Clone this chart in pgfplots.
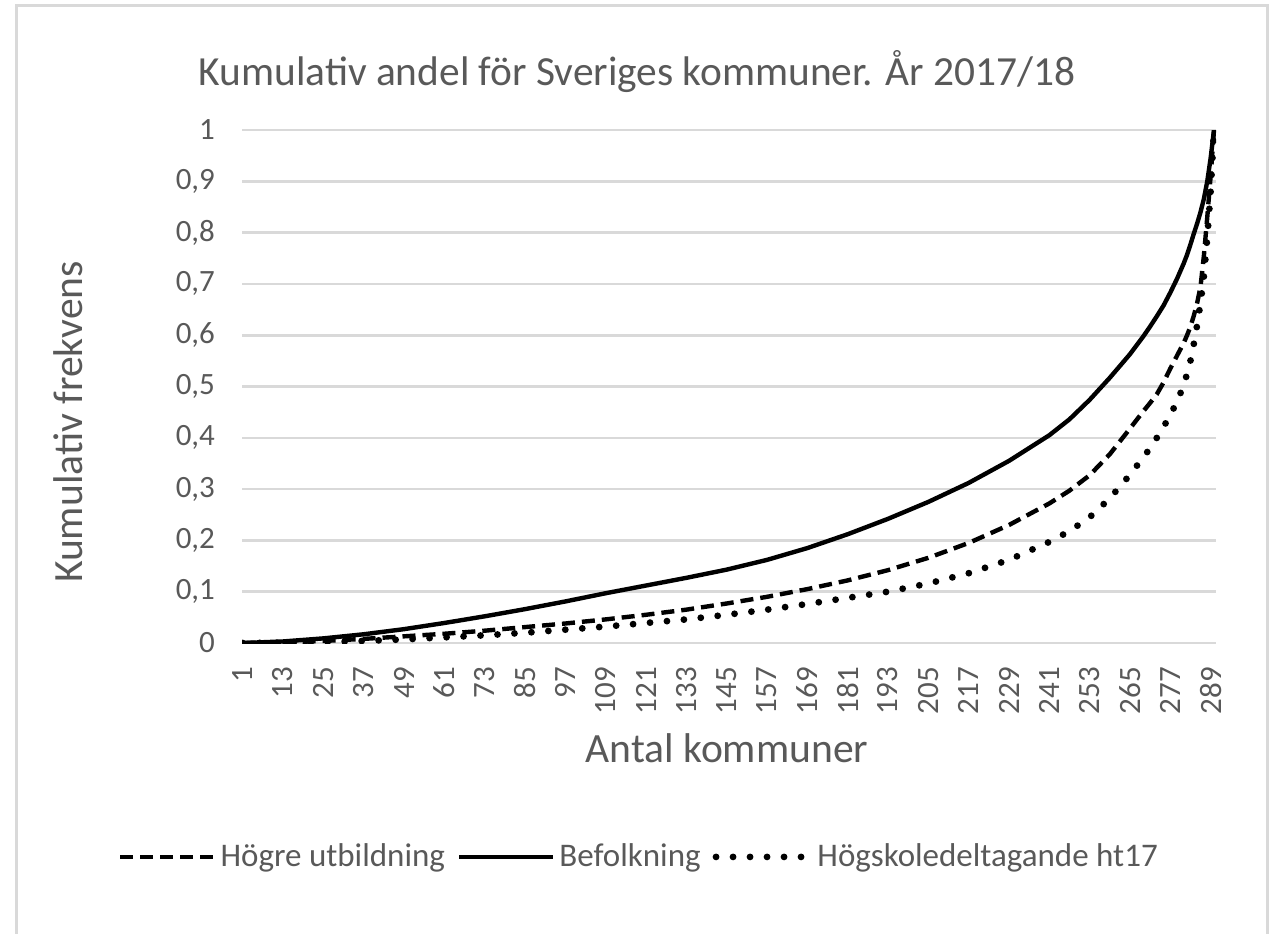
\documentclass[border=0pt]{standalone}
\usepackage{fontspec}
\setmainfont{Carlito}
\usepackage{pgfplots}
\pgfplotsset{compat=1.18}
\usepackage{pgfplotstable}
\definecolor{txt}{HTML}{595959}
\definecolor{gridc}{HTML}{D9D9D9}

\pgfplotstableread{
x hu bef hsk
1 0 0 0
13 0.001 0.003 0.0005
25 0.004 0.009 0.002
37 0.008 0.017 0.004
49 0.013 0.027 0.007
61 0.018 0.039 0.011
73 0.024 0.052 0.015
85 0.031 0.066 0.020
97 0.038 0.081 0.026
109 0.046 0.097 0.032
121 0.055 0.112 0.039
133 0.065 0.127 0.046
145 0.077 0.143 0.055
157 0.090 0.162 0.065
169 0.105 0.185 0.076
181 0.122 0.212 0.088
193 0.142 0.242 0.100
205 0.166 0.275 0.116
217 0.195 0.312 0.136
229 0.230 0.355 0.162
241 0.272 0.405 0.197
247 0.297 0.436 0.218
253 0.327 0.474 0.245
259 0.368 0.517 0.282
265 0.418 0.563 0.328
269 0.452 0.598 0.362
271 0.468 0.617 0.380
273 0.485 0.637 0.400
275 0.508 0.658 0.421
277 0.535 0.683 0.445
279 0.560 0.710 0.470
281 0.585 0.740 0.503
282 0.600 0.757 0.525
283 0.617 0.777 0.550
284 0.638 0.798 0.583
285 0.663 0.818 0.620
286 0.695 0.840 0.663
287 0.755 0.866 0.715
288 0.830 0.900 0.790
289 0.910 0.945 0.880
290 1.0 1.0 1.0
}\data

\begin{document}
\begin{tikzpicture}
\useasboundingbox (0pt,0pt) rectangle (638pt,466.5pt);
\draw[gridc, line width=1.5pt] (8.3pt,-10pt) -- (8.3pt,463.8pt) -- (633.5pt,463.8pt) -- (633.5pt,-10pt);
\node[text=txt, font=\fontsize{20.7}{25}\selectfont] at (318.5pt,430.5pt) {Kumulativ andel för Sveriges kommuner. År 2017/18};
\node[text=txt, rotate=90, font=\fontsize{20.8}{25}\selectfont] at (34pt,255.5pt) {Kumulativ frekvens};
\node[text=txt, font=\fontsize{20.8}{25}\selectfont] at (363.5pt,92.5pt) {Antal kommuner};
\begin{axis}[
  at={(121pt,145pt)}, anchor=south west,
  scale only axis, width=487pt, height=256.5pt,
  xmin=0.8, xmax=290.6, ymin=0, ymax=1,
  axis line style={draw=none},
  major tick length=0pt,
  ymajorgrids, grid style={gridc, line width=1.3pt},
  xtick={1,13,...,289},
  ytick={0,0.1,0.2,0.3,0.4,0.5,0.6,0.7,0.8,0.9,1},
  yticklabels={0,{0,1},{0,2},{0,3},{0,4},{0,5},{0,6},{0,7},{0,8},{0,9},1},
  /pgf/number format/assume math mode=true,
  ticklabel style={text=txt, font=\fontsize{15.5}{18}\selectfont},
  xticklabel style={rotate=90, anchor=east},
  xticklabel shift=8.5pt,
  yticklabel shift=10pt,
  legend columns=3,
  legend style={at={(0.4086,-0.417)}, anchor=center, draw=none, fill=none,
    font=\fontsize{16.5}{19}\selectfont, text=txt,
    /tikz/every even column/.append style={column sep=4pt}},
  legend image code/.code={\draw[#1] (0pt,0pt) -- (47pt,0pt);},
]
\addplot[black, line width=2.2pt, dash pattern=on 6.5pt off 3.5pt] table[x=x,y=hu] {\data};
\addlegendentry{Högre utbildning}
\addplot[black, line width=2.2pt] table[x=x,y=bef] {\data};
\addlegendentry{Befolkning}
\addplot[black, line width=3.4pt, line cap=round, dash pattern=on 0pt off 8.5pt] table[x=x,y=hsk] {\data};
\addlegendentry{Högskoledeltagande ht17}
\end{axis}
\end{tikzpicture}
\end{document}
